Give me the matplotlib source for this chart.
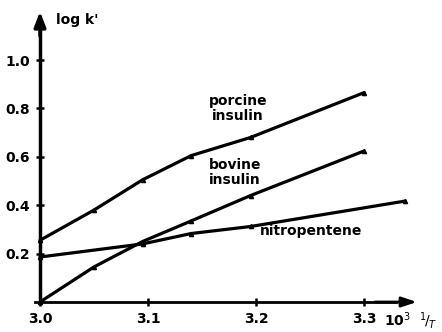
import matplotlib
matplotlib.use("Agg")
import matplotlib.pyplot as plt

# data
porcine_x = [3.0, 3.05, 3.095, 3.14, 3.195, 3.3]
porcine_y = [0.255, 0.38, 0.505, 0.605, 0.68, 0.865]
bovine_x = [3.0, 3.05, 3.095, 3.14, 3.195, 3.3]
bovine_y = [0.0, 0.145, 0.25, 0.335, 0.44, 0.624]
nitro_x = [3.0, 3.095, 3.14, 3.195, 3.338]
nitro_y = [0.186, 0.24, 0.283, 0.312, 0.417]
x_ticks = [3.0, 3.1, 3.2, 3.3]
x_tick_labels = ["3.0", "3.1", "3.2", "3.3"]
y_ticks = [0.2, 0.4, 0.6, 0.8, 1.0]
y_tick_labels = ["0.2", "0.4", "0.6", "0.8", "1.0"]

plt.rcParams['font.family'] = ['DejaVu Sans']
fig = plt.figure(figsize=(4.42, 3.32), dpi=100)
ax = fig.add_axes([0, 0, 1, 1])
ax.set_xlim(3.0 - 40 / 1080, 3.0 + 402 / 1080)
ax.set_ylim(-30 / 242, 302 / 242)
ax.patch.set_visible(False)

lw = 2.3
for xs, ys in [(porcine_x, porcine_y), (bovine_x, bovine_y), (nitro_x, nitro_y)]:
    ax.plot(xs, ys, color='black', lw=lw, solid_capstyle='round',
            marker='^', ms=3, mfc='black', mec='black', zorder=3)

for s in ['top', 'right']:
    ax.spines[s].set_visible(False)
ax.spines['left'].set_position(('data', 3.0))
ax.spines['bottom'].set_position(('data', 0.0))
ax.spines['left'].set_bounds(0, 1.14)
ax.spines['bottom'].set_bounds(2.995, 3.33)
ax.spines['left'].set_linewidth(2.5)
ax.spines['bottom'].set_linewidth(2.0)

ax.annotate('', xy=(3.0, 1.2), xytext=(3.0, 1.10),
            arrowprops=dict(arrowstyle='-|>,head_length=0.9,head_width=0.35',
                            color='black', lw=2.5, shrinkA=0, shrinkB=0))
ax.annotate('', xy=(3.349, 0.0), xytext=(3.31, 0.0),
            arrowprops=dict(arrowstyle='-|>,head_length=0.9,head_width=0.3',
                            color='black', lw=2.0, shrinkA=0, shrinkB=0))

ax.set_xticks(x_ticks)
ax.set_xticklabels(x_tick_labels)
ax.set_yticks(y_ticks)
ax.set_yticklabels(y_tick_labels)
ax.tick_params(axis='both', direction='inout', length=6, width=1.8,
               labelsize=10, pad=4)
for lab in ax.get_xticklabels() + ax.get_yticklabels():
    lab.set_fontweight('bold')

tk = dict(fontsize=10, color='black', fontweight='bold')
ax.text(3.0 + 16 / 1080, 1.165, "log k'", ha='left', va='center', **tk)
ax.text(3.0 + 198 / 1080, 0.80, "porcine\ninsulin", ha='center', va='center',
        linespacing=1.1, **tk)
ax.text(3.0 + 195 / 1080, 0.535, "bovine\ninsulin", ha='center', va='center',
        linespacing=1.1, **tk)
ax.text(3.204, 0.295, "nitropentene", ha='left', va='center', **tk)
ax.text(3.3 + 20 / 1080, -0.075, r"10$^3$  $^1\!/_T$", ha='left', va='center', **tk)

fig.savefig("out.png", dpi=100)
